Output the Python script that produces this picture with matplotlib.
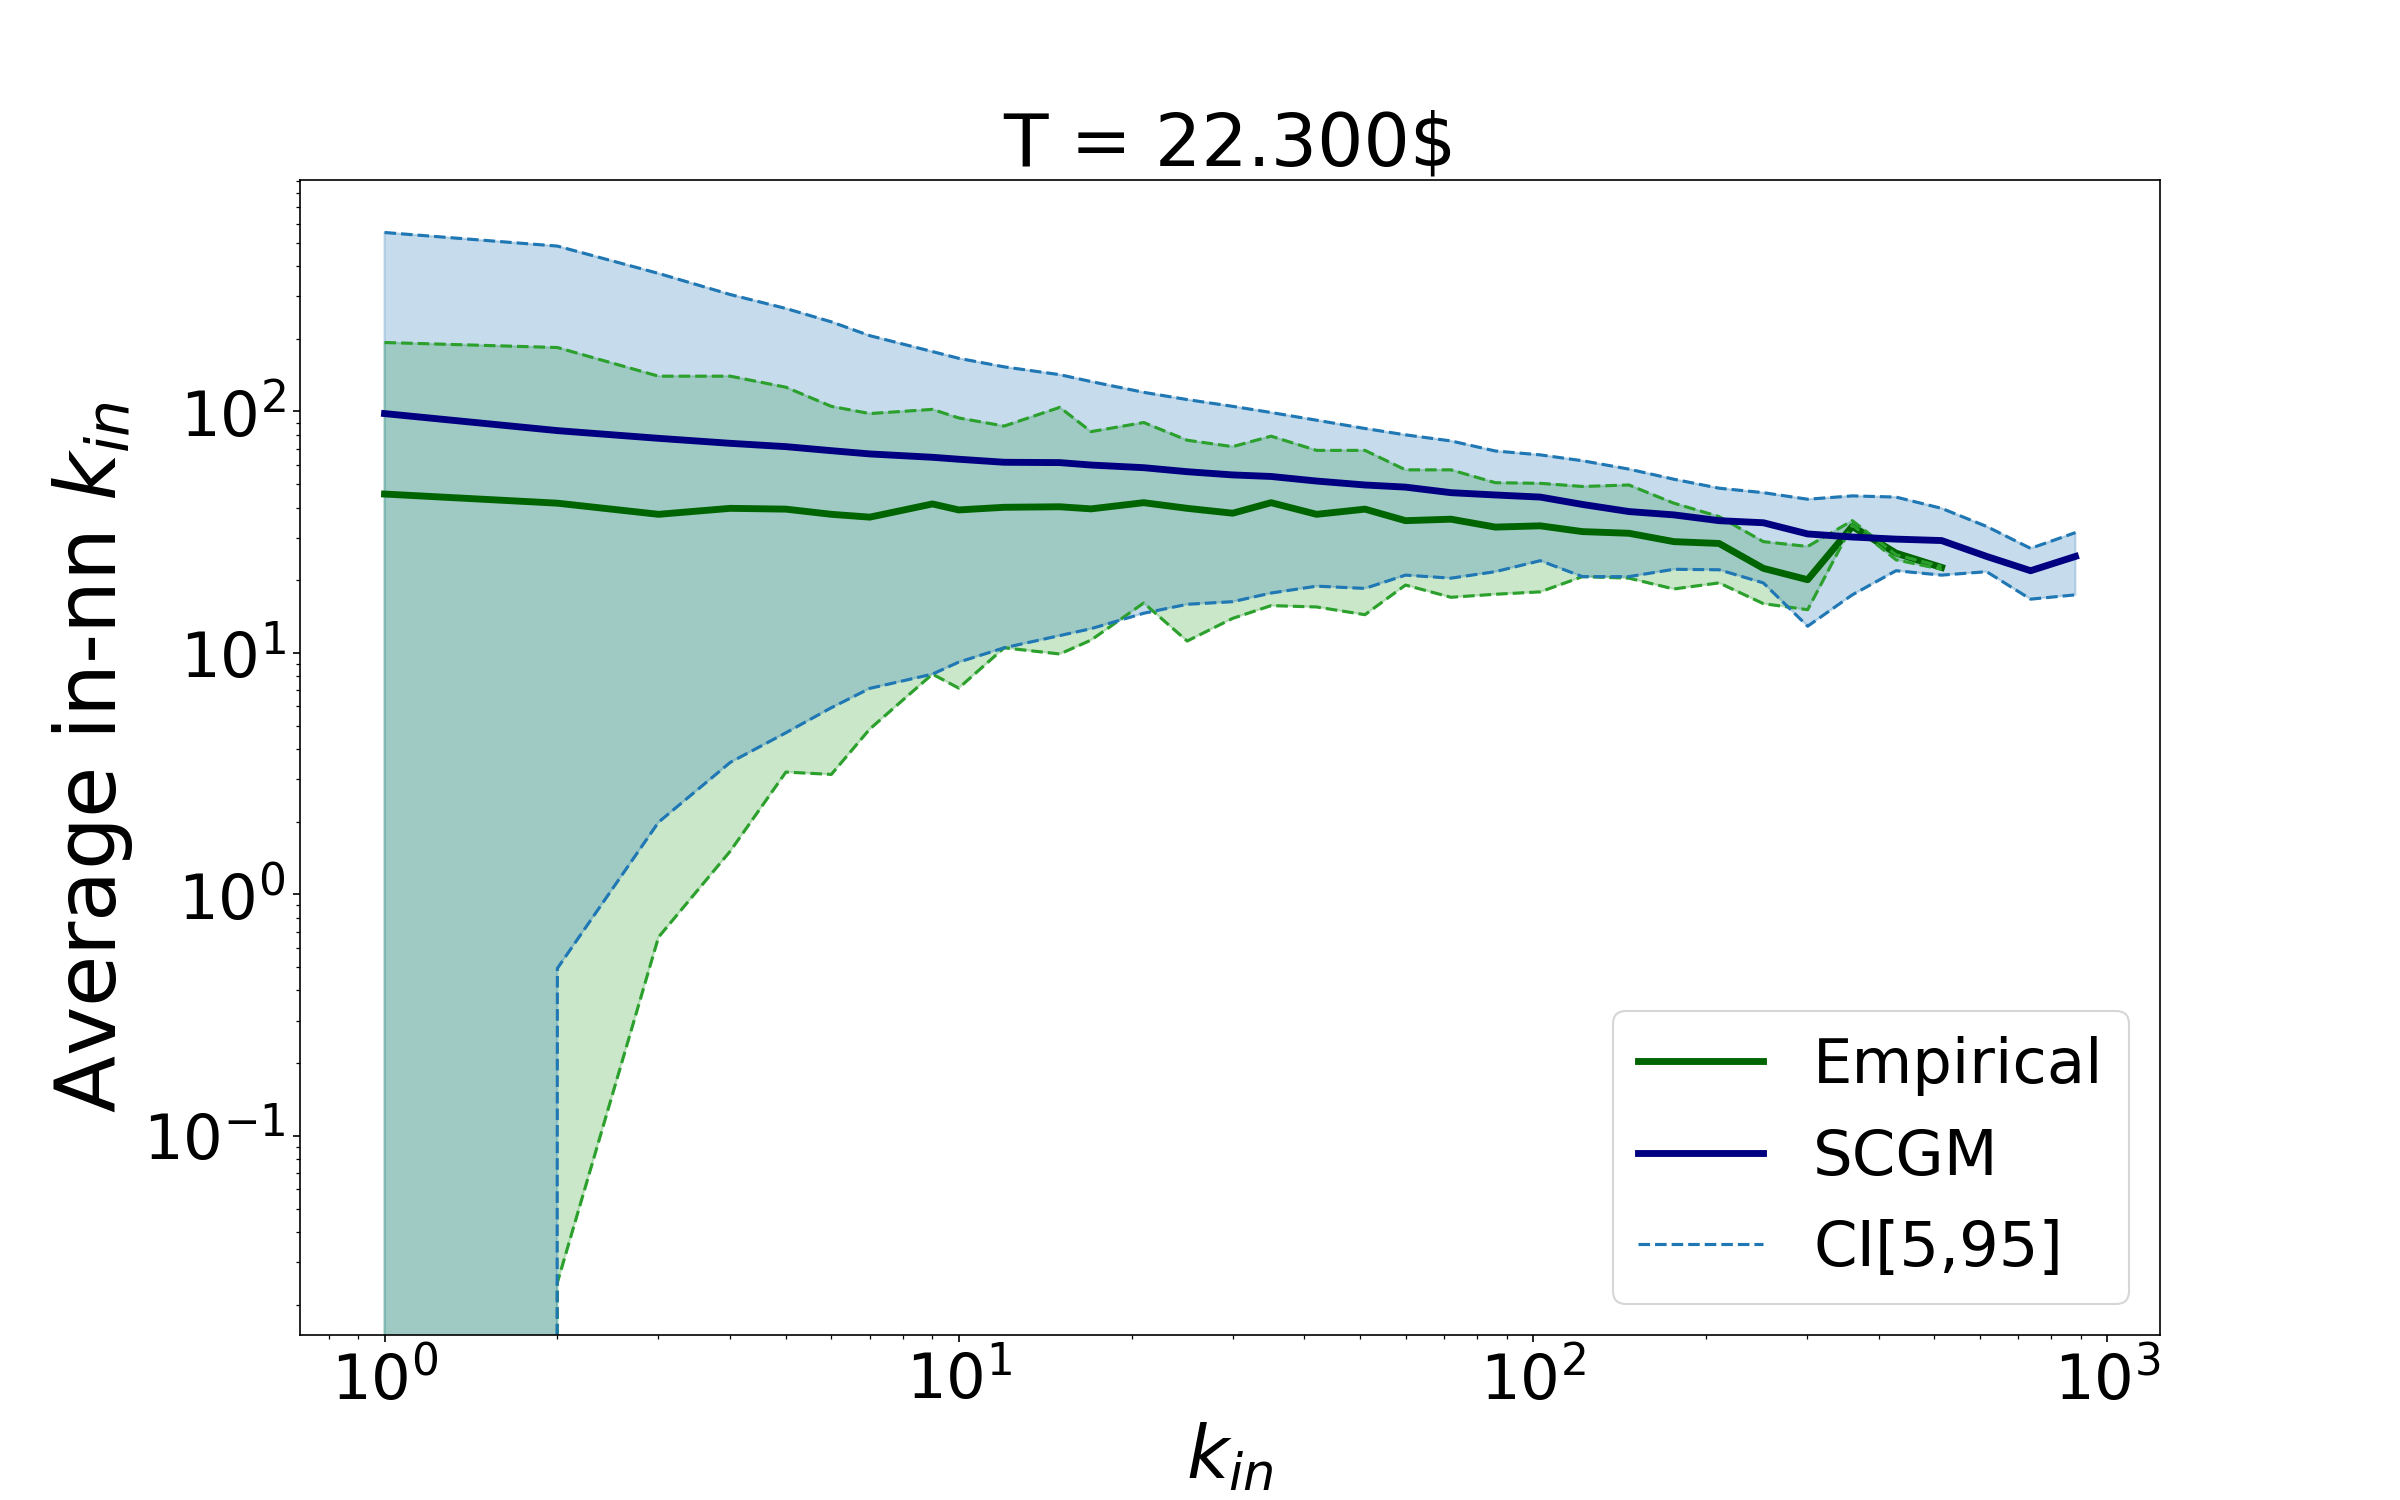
import matplotlib
matplotlib.use("Agg")
import matplotlib.pyplot as plt

# in-degree bins (log spaced)
k_all = [1, 2, 3, 4, 5, 6, 7, 9, 10, 12, 15, 17, 21, 25, 30, 35, 42, 51, 60,
         72, 86, 103, 122, 147, 176, 211, 252, 301, 360, 429, 515, 617, 736, 881]
k_emp = k_all[:31]

# empirical average in-nn in-degree and its CI
emp_mean = [45.5, 41.7, 37.5, 39.7, 39.4, 37.5, 36.5, 41.4, 39.1, 40.1, 40.3,
            39.5, 41.9, 39.7, 37.9, 41.9, 37.5, 39.4, 35.3, 35.8, 33.2, 33.6,
            31.8, 31.3, 28.9, 28.4, 22.4, 20.1, 33.4, 25.9, 22.6]
emp_hi = [193, 184, 140, 140, 126, 105, 98, 102, 94, 87, 104, 82.5, 90, 76,
          71.5, 79, 69, 69, 57.3, 57.3, 50.7, 50.4, 48.9, 49.6, 41.7, 36.7,
          28.9, 27.6, 35.3, 25.5, 22.8]
emp_lo = [0, 0.0247, 0.665, 1.51, 3.21, 3.14, 4.84, 8.17, 7.15, 10.5, 9.9,
          11.3, 16.1, 11.2, 13.9, 15.7, 15.5, 14.4, 19.1, 17.0, 17.5, 17.9,
          20.7, 20.4, 18.4, 19.5, 16.0, 15.1, 33.9, 24.3, 22.2]

# SCGM ensemble average and CI[5,95]
scgm_mean = [98, 83.3, 77.4, 73.8, 71.5, 68.8, 66.7, 64.6, 63.4, 61.6, 61.4,
             60, 58.5, 56.3, 54.6, 53.8, 51.5, 49.6, 48.6, 46.1, 45.1, 44.2,
             41.2, 38.5, 37.3, 35.3, 34.6, 31.1, 30.2, 29.6, 29.2, 25.1, 21.9,
             25.1]
scgm_hi = [551, 484, 373, 305, 267, 235, 206, 177, 166, 153, 142, 133, 120,
           112, 105, 99, 92, 85, 80, 75.5, 68.6, 66.1, 62.5, 57.7, 52.4, 48.1,
           46.1, 43.3, 44.7, 44.2, 39.7, 33.4, 27.1, 31.5]
scgm_lo = [0, 0.494, 1.99, 3.52, 4.67, 5.93, 7.13, 8.17, 9.16, 10.5, 11.8,
           12.6, 14.6, 15.9, 16.3, 17.7, 18.9, 18.5, 21.0, 20.4, 21.7, 24.1,
           20.7, 20.7, 22.2, 22.1, 19.5, 12.9, 17.4, 21.9, 21.0, 21.7, 16.7,
           17.4]

fig, ax = plt.subplots(figsize=(16, 10))

ax.plot(k_emp, emp_mean, color="darkgreen", lw=3.3, label="Empirical")
ax.plot(k_emp, emp_lo, "--", color="tab:green")
ax.plot(k_emp, emp_hi, "--", color="tab:green")
ax.fill_between(k_emp, emp_lo, emp_hi, color="tab:green", alpha=0.25)

ax.plot(k_all, scgm_mean, color="navy", lw=3.3, label="SCGM")
ax.plot(k_all, scgm_lo, "--", color="tab:blue", label="CI[5,95]")
ax.plot(k_all, scgm_hi, "--", color="tab:blue")
ax.fill_between(k_all, scgm_lo, scgm_hi, color="tab:blue", alpha=0.25)

ax.set_xscale("log")
ax.set_yscale("log")
ax.tick_params(labelsize=30)
ax.set_xlabel("$k_{in}$", fontsize=35)
ax.set_ylabel("Average in-nn $k_{in}$", fontsize=40)
ax.set_title("T = 22.300$", fontsize=35)
ax.legend(loc="lower right", fontsize=30)

fig.savefig("out.png", dpi=150, facecolor="white")
